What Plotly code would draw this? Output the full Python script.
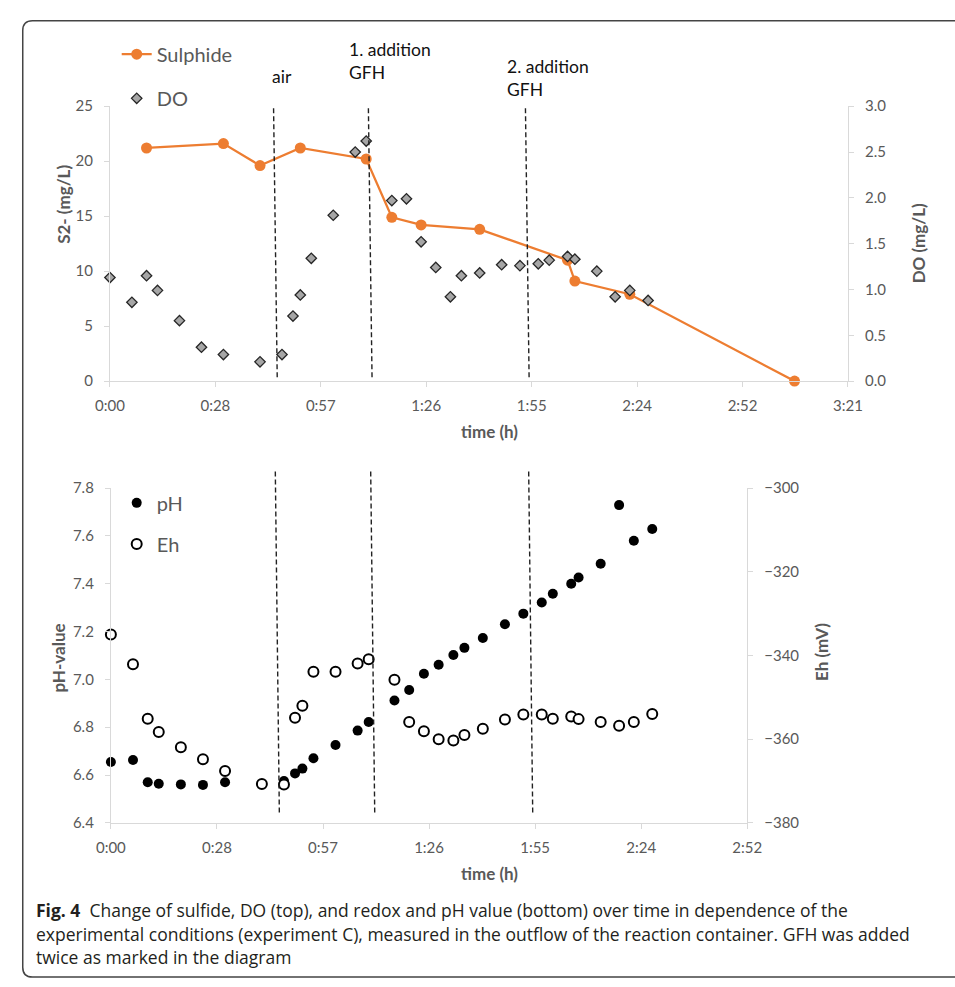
import plotly.graph_objects as go

# ---------------- data (time in minutes) ----------------
sulphide_t = [10, 31, 41, 52, 70, 77, 85, 101, 125, 127, 142, 187]
sulphide = [21.2, 21.6, 19.6, 21.2, 20.2, 14.9, 14.2, 13.8, 11.0, 9.1, 7.9, 0.0]

do_t = [0, 6, 10, 13, 19, 25, 31, 41, 47, 50, 52, 55, 61, 67, 70, 77, 81, 85,
        89, 93, 96, 101, 107, 112, 117, 120, 125, 127, 133, 138, 142, 147]
do_val = [1.13, 0.86, 1.15, 0.99, 0.66, 0.37, 0.29, 0.21, 0.29, 0.71, 0.94, 1.34,
          1.81, 2.50, 2.62, 1.97, 1.99, 1.52, 1.24, 0.92, 1.15, 1.18, 1.27, 1.26,
          1.28, 1.32, 1.36, 1.33, 1.20, 0.92, 0.99, 0.88]

ph_t = [0, 6, 10, 13, 19, 25, 31, 47, 50, 52, 55, 61, 67, 70, 77, 81, 85, 89,
        93, 96, 101, 107, 112, 117, 120, 125, 127, 133, 138, 142, 147]
ph_val = [6.655, 6.663, 6.570, 6.564, 6.561, 6.559, 6.570, 6.575, 6.607, 6.627,
          6.670, 6.726, 6.786, 6.822, 6.912, 6.956, 7.024, 7.061, 7.102, 7.132,
          7.173, 7.231, 7.275, 7.322, 7.358, 7.400, 7.426, 7.484, 7.729, 7.580, 7.629]

eh_t = [0, 6, 10, 13, 19, 25, 31, 41, 47, 50, 52, 55, 61, 67, 70, 77, 81, 85,
        89, 93, 96, 101, 107, 112, 117, 120, 125, 127, 133, 138, 142, 147]
eh_val = [-335.0, -342.1, -355.1, -358.3, -361.9, -364.8, -367.6, -370.7, -370.8,
          -354.9, -352.0, -343.9, -343.9, -341.9, -340.9, -345.8, -355.9, -358.1,
          -360.0, -360.3, -359.0, -357.5, -355.3, -354.1, -354.1, -355.1, -354.6,
          -355.2, -355.9, -356.8, -355.9, -354.0]

event_t = [45.2, 71.1, 114.0]
event_labels = ["air", "1. addition<br>GFH", "2. addition<br>GFH"]

x_ticks_top = [0, 28.8, 57.6, 86.4, 115.2, 144.0, 172.8, 201.6]
x_labels_top = ["0:00", "0:28", "0:57", "1:26", "1:55", "2:24", "2:52", "3:21"]
x_ticks_bot = [0, 28.8, 57.6, 86.4, 115.2, 144.0, 172.8]
x_labels_bot = ["0:00", "0:28", "0:57", "1:26", "1:55", "2:24", "2:52"]

caption_lines = [
    "<b>Fig. 4</b>  Change of sulfide, DO (top), and redox and pH value (bottom) over time in dependence of the",
    "experimental conditions (experiment C), measured in the outflow of the reaction container. GFH was added",
    "twice as marked in the diagram",
]

# ---------------- styling helpers ----------------
W, H = 955, 987
FONT = "Lato, 'Open Sans', sans-serif"
CAP_FONT = "'Open Sans', sans-serif"
GRAY = "#595959"
AXC = "#d9d9d9"
ORANGE = "#ED7D31"


def px(x):
    return x / W


def py(y):
    return 1 - y / H


fig = go.Figure()

fig.add_trace(go.Scatter(
    x=sulphide_t, y=sulphide, name="Sulphide", mode="lines+markers",
    line=dict(color=ORANGE, width=2.25), marker=dict(size=11, color=ORANGE),
    xaxis="x", yaxis="y", legend="legend", cliponaxis=False))
fig.add_trace(go.Scatter(
    x=do_t, y=do_val, name="DO", mode="markers",
    marker=dict(symbol="diamond", size=8, color="#a6a6a6",
                line=dict(color="#262626", width=1.3)),
    xaxis="x", yaxis="y2", legend="legend2", cliponaxis=False))
fig.add_trace(go.Scatter(
    x=ph_t, y=ph_val, name="pH", mode="markers",
    marker=dict(size=10, color="black"),
    xaxis="x2", yaxis="y3", legend="legend3", cliponaxis=False))
fig.add_trace(go.Scatter(
    x=eh_t, y=eh_val, name="Eh", mode="markers",
    marker=dict(size=10, color="white", line=dict(color="black", width=2)),
    xaxis="x2", yaxis="y4", legend="legend4", cliponaxis=False))

axis_common = dict(showline=True, linecolor=AXC, linewidth=1, ticks="outside",
                   ticklen=5, tickcolor=AXC, showgrid=False, zeroline=False,
                   tickfont=dict(family=FONT, size=15, color=GRAY))

fig.update_layout(
    width=W, height=H, margin=dict(l=0, r=0, t=0, b=0),
    paper_bgcolor="white", plot_bgcolor="white",
    font=dict(family=FONT, color=GRAY),
    xaxis=dict(domain=[px(98), px(860)], anchor="y", range=[0, 201.6],
               tickvals=x_ticks_top, ticktext=x_labels_top, ticklabelstandoff=6,
               **axis_common),
    yaxis=dict(domain=[py(378), py(98)], anchor="x", range=[0, 25],
               tick0=0, dtick=5, ticklabelstandoff=8, **axis_common),
    yaxis2=dict(overlaying="y", side="right", anchor="x", range=[0, 3],
                tick0=0, dtick=0.5, tickformat=".1f", ticklabelstandoff=8,
                **axis_common),
    xaxis2=dict(domain=[px(99), px(756)], anchor="y3", range=[0, 172.8],
                tickvals=x_ticks_bot, ticktext=x_labels_bot, ticklabelstandoff=6,
                **axis_common),
    yaxis3=dict(domain=[py(828), py(487)], anchor="x2", range=[6.4, 7.8],
                tick0=6.4, dtick=0.2, tickformat=".1f", ticklabelstandoff=8,
                **axis_common),
    yaxis4=dict(overlaying="y3", side="right", anchor="x2", range=[-380, -300],
                tick0=-380, dtick=20, ticklabelstandoff=8, **axis_common),
    showlegend=True,
)

leg_common = dict(xanchor="left", yanchor="middle", bgcolor="rgba(0,0,0,0)",
                  font=dict(family=FONT, size=20, color=GRAY),
                  itemclick=False, itemdoubleclick=False)
fig.update_layout(
    legend=dict(x=px(105), y=py(45), **leg_common),
    legend2=dict(x=px(105), y=py(90), **leg_common),
    legend3=dict(x=px(105), y=py(502), **leg_common),
    legend4=dict(x=px(105), y=py(544), **leg_common),
)

# event lines (slightly slanted dashed lines like the original)
shapes = []
for t in event_t:
    shapes.append(dict(type="line", xref="x", yref="paper",
                       x0=t - 0.5, x1=t + 0.5, y0=py(100), y1=py(375),
                       line=dict(color="#222222", width=1.4, dash="5px,3px")))
    shapes.append(dict(type="line", xref="x2", yref="paper",
                       x0=t - 0.55, x1=t + 0.55, y0=py(470), y1=py(820),
                       line=dict(color="#222222", width=1.4, dash="5px,3px")))

# rounded frame
fx0, fy0, fx1, fy1, r = 8, 11, 975, 985, 10
path = (f"M {px(fx1)},{py(fy0)} L {px(fx0 + r)},{py(fy0)} "
        f"Q {px(fx0)},{py(fy0)} {px(fx0)},{py(fy0 + r)} "
        f"L {px(fx0)},{py(fy1 - r)} Q {px(fx0)},{py(fy1)} {px(fx0 + r)},{py(fy1)} "
        f"L {px(fx1)},{py(fy1)}")
shapes.append(dict(type="path", xref="paper", yref="paper", path=path,
                   line=dict(color="#444444", width=1.5)))
fig.update_layout(shapes=shapes)

ann = []
label_pos = [(263, 68), (343, 52), (506, 69)]
for lab, (lx, ly) in zip(event_labels, label_pos):
    ann.append(dict(text=lab, x=px(lx), y=py(ly), xref="paper", yref="paper",
                    xanchor="left", yanchor="middle", align="left", showarrow=False,
                    font=dict(family=FONT, size=17.5, color="#111111")))

titles = [
    ("<b>S2- (mg/L)</b>", 50, 198, -90),
    ("<b>DO (mg/L)</b>", 933, 238, -90),
    ("<b>time (h)</b>", 490, 429, 0),
    ("<b>pH-value</b>", 45, 660, -90),
    ("<b>Eh (mV)</b>", 832, 654, -90),
    ("<b>time (h)</b>", 490, 880, 0),
]
for txt, tx, ty, ang in titles:
    ann.append(dict(text=txt, x=px(tx), y=py(ty), xref="paper", yref="paper",
                    xanchor="center", yanchor="middle", showarrow=False,
                    textangle=ang, font=dict(family=FONT, size=17, color=GRAY)))

for i, line in enumerate(caption_lines):
    ann.append(dict(text=line, x=px(20), y=py(917 + 24 * i), xref="paper",
                    yref="paper", xanchor="left", yanchor="middle", align="left",
                    showarrow=False,
                    font=dict(family=CAP_FONT, size=17.5, color="#231f20")))

fig.update_layout(annotations=ann)

fig.write_html("out.html")
